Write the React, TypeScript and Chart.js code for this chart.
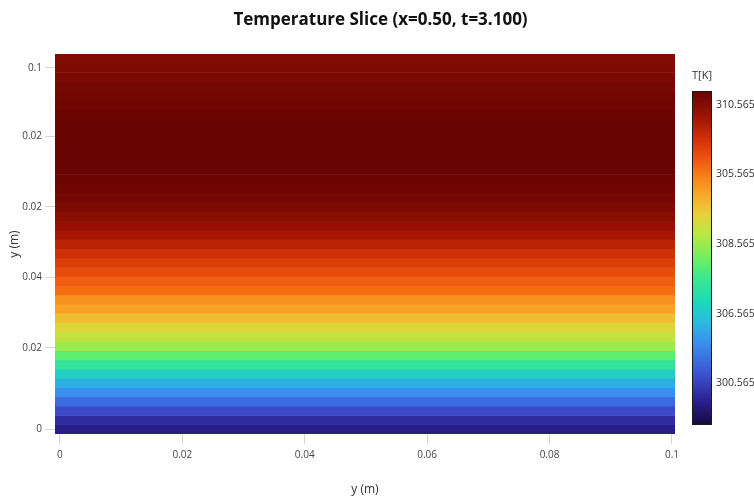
import React, { useEffect, useRef } from 'react';
import { Chart, registerables } from 'chart.js';

Chart.register(...registerables);

const TITLE = 'Temperature Slice (x=0.50, t=3.100)';
const X_TITLE = 'y (m)';
const Y_TITLE = 'y (m)';
const CB_TITLE = 'T[K]';

// heatmap rows (y centres, bottom to top) and their temperatures [K]
const rowY = [
  0, 0.0025, 0.005, 0.0075, 0.01, 0.0125, 0.015, 0.0175, 0.02, 0.0225,
  0.025, 0.0275, 0.03, 0.0325, 0.035, 0.0375, 0.04, 0.0425, 0.045, 0.0475,
  0.05, 0.0525, 0.055, 0.0575, 0.06, 0.0625, 0.065, 0.0675, 0.07, 0.0725,
  0.075, 0.0775, 0.08, 0.0825, 0.085, 0.0875, 0.09, 0.0925, 0.095, 0.0975, 0.1,
];
const rowT = [
  300.25, 300.54, 301.11, 301.69, 302.32, 302.84, 303.53, 304.33, 305.02, 305.71,
  306.23, 306.57, 307.03, 307.55, 307.78, 308.3, 308.53, 308.82, 309.1, 309.39,
  309.68, 309.97, 310.25, 310.48, 310.66, 310.77, 310.89, 310.94, 311.0, 311.0,
  311.0, 311.0, 311.0, 311.0, 310.94, 310.89, 310.83, 310.77, 310.71, 310.66, 310.6,
];
// horizontal extent of the heatmap cells
const xExtent = [-0.001, 0.101];

// axis ticks
const xTickValues = [0, 0.02, 0.04, 0.06, 0.08, 0.1];
const xTickLabels = ['0', '0.02', '0.04', '0.06', '0.08', '0.1'];
const yTickValues = [0, 0.022, 0.041, 0.06, 0.079, 0.0975];
const yTickLabels = ['0', '0.02', '0.04', '0.02', '0.02', '0.1'];

// colour bar
const T_MIN = 299.5;
const T_MAX = 311.0;
const cbTickValues = [300.93, 303.33, 305.73, 308.13, 310.53];
const cbTickLabels = ['300.565', '306.565', '308.565', '305.565', '310.565'];

// colour scale stops (style)
const colorStops: [number, string][] = [
  [0.0, '#140a3c'],
  [0.07, '#2a1f90'],
  [0.15, '#3c50d0'],
  [0.24, '#3a8cf0'],
  [0.31, '#28bce0'],
  [0.37, '#20d8b8'],
  [0.45, '#40ea88'],
  [0.5, '#70f060'],
  [0.57, '#b8e840'],
  [0.63, '#e8d038'],
  [0.69, '#f8a828'],
  [0.74, '#f88418'],
  [0.79, '#f05a10'],
  [0.85, '#d43406'],
  [0.92, '#a01404'],
  [1.0, '#680402'],
];

function hexToRgb(h: string) {
  const n = parseInt(h.slice(1), 16);
  return [(n >> 16) & 255, (n >> 8) & 255, n & 255];
}

function colorAt(f: number) {
  const t = Math.max(0, Math.min(1, f));
  for (let i = 1; i < colorStops.length; i++) {
    const [p1, c1] = colorStops[i];
    const [p0, c0] = colorStops[i - 1];
    if (t <= p1) {
      const k = (t - p0) / (p1 - p0 || 1);
      const a = hexToRgb(c0);
      const b = hexToRgb(c1);
      const r = Math.round(a[0] + (b[0] - a[0]) * k);
      const g = Math.round(a[1] + (b[1] - a[1]) * k);
      const bl = Math.round(a[2] + (b[2] - a[2]) * k);
      return `rgb(${r},${g},${bl})`;
    }
  }
  return colorStops[colorStops.length - 1][1];
}

const tempColor = (T: number) => colorAt((T - T_MIN) / (T_MAX - T_MIN));

const FONT = "'Open Sans', 'DejaVu Sans', sans-serif";

const colorbarPlugin = {
  id: 'colorbar',
  afterDraw(chart: any) {
    const { ctx, chartArea } = chart;
    const cb = chart.scales.cb;
    const x0 = chartArea.right + 17;
    const w = 20;
    const top = Math.round(cb.getPixelForValue(T_MAX));
    const bottom = Math.round(cb.getPixelForValue(T_MIN));
    ctx.save();
    for (let y = top; y < bottom; y++) {
      const T = cb.getValueForPixel(y + 0.5);
      ctx.fillStyle = tempColor(T);
      ctx.fillRect(x0, y, w, 1);
    }
    ctx.strokeStyle = '#1a1a1a';
    ctx.lineWidth = 1;
    ctx.strokeRect(x0 + 0.5, top + 0.5, w - 1, bottom - top - 1);
    ctx.fillStyle = '#333';
    ctx.font = `11px ${FONT}`;
    ctx.textAlign = 'center';
    ctx.textBaseline = 'middle';
    ctx.fillText(CB_TITLE, x0 + w / 2, top - 15);
    ctx.restore();
  },
};

export default function App() {
  const ref = useRef<HTMLCanvasElement | null>(null);

  useEffect(() => {
    if (!ref.current) return;
    const data = rowY.map((y) => ({ x: [xExtent[0], xExtent[1]], y }));
    const chart = new Chart(ref.current, {
      type: 'bar',
      data: {
        datasets: [
          {
            label: 'T',
            data: data as any,
            backgroundColor: rowT.map(tempColor),
            borderWidth: 0,
            barPercentage: 1,
            categoryPercentage: 1,
            xAxisID: 'x',
            yAxisID: 'y',
          },
        ],
      },
      options: {
        indexAxis: 'y',
        animation: false,
        responsive: false,
        maintainAspectRatio: false,
        layout: { padding: { left: 7, right: 0, top: 0, bottom: 0 } },
        plugins: {
          legend: { display: false },
          tooltip: { enabled: false },
          title: {
            display: true,
            text: TITLE,
            color: '#111',
            font: { family: FONT, size: 17, weight: 'bold' },
            padding: { top: 10, bottom: 23.6 },
          },
        },
        scales: {
          x: {
            type: 'linear',
            position: 'bottom',
            offset: false,
            min: -0.0008,
            max: 0.1005,
            afterBuildTicks: (s: any) => {
              s.ticks = xTickValues.map((v) => ({ value: v }));
            },
            afterFit: (s: any) => {
              s.height = 63;
            },
            ticks: {
              color: '#444',
              font: { family: FONT, size: 10 },
              padding: 5,
              maxRotation: 0,
              autoSkip: false,
              callback: (_v: any, i: number) => xTickLabels[i],
            },
            grid: { offset: false, drawOnChartArea: false, tickLength: 10, color: '#d6d6d6' },
            border: { display: false },
            title: {
              display: true,
              text: X_TITLE,
              color: '#333',
              font: { family: FONT, size: 12 },
              padding: 0,
            },
          },
          y: {
            type: 'linear',
            position: 'left',
            offset: false,
            min: -0.00125,
            max: 0.10125,
            afterBuildTicks: (s: any) => {
              s.ticks = yTickValues.map((v) => ({ value: v }));
            },
            afterFit: (s: any) => {
              s.width = 48;
            },
            ticks: {
              color: '#444',
              font: { family: FONT, size: 10 },
              padding: 3,
              autoSkip: false,
              callback: (_v: any, i: number) => yTickLabels[i],
            },
            grid: { offset: false, drawOnChartArea: false, tickLength: 10, color: '#d6d6d6' },
            border: { display: false },
            title: {
              display: true,
              text: Y_TITLE,
              color: '#333',
              font: { family: FONT, size: 12 },
              padding: 0,
            },
          },
          cb: {
            type: 'linear',
            position: 'right',
            offset: false,
            min: 299.19,
            max: 312.27,
            afterBuildTicks: (s: any) => {
              s.ticks = cbTickValues.map((v) => ({ value: v }));
            },
            afterFit: (s: any) => {
              s.width = 79;
            },
            ticks: {
              color: '#333',
              font: { family: FONT, size: 10.5 },
              padding: 41,
              autoSkip: false,
              callback: (_v: any, i: number) => cbTickLabels[i],
            },
            grid: { display: false, drawTicks: false },
            border: { display: false },
          },
        },
      },
      plugins: [colorbarPlugin],
    } as any);
    return () => chart.destroy();
  }, []);

  return (
    <div style={{ position: 'fixed', left: 0, top: 0, width: 754, height: 497, background: '#fff' }}>
      <canvas ref={ref} width={754} height={497} style={{ display: 'block', width: 754, height: 497 }} />
    </div>
  );
}
